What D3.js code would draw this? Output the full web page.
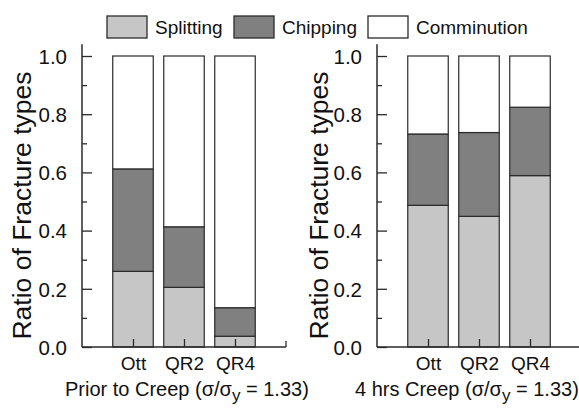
<!DOCTYPE html>
<html>
<head>
<meta charset="utf-8">
<script src="https://cdn.jsdelivr.net/npm/d3@7"></script>
<style>
  body { margin: 0; background: #fff; }
  text { font-family: Arial, "Liberation Sans", sans-serif; fill: #111; }
</style>
</head>
<body>
<div id="chart"></div>
<script>
(function(){
    // data
    const categories = ['Ott', 'QR2', 'QR4'];
    const seriesNames = ['Splitting', 'Chipping', 'Comminution'];
    const priorSplitting = [0.26, 0.205, 0.037];
    const priorChipping = [0.352, 0.208, 0.098];
    const creepSplitting = [0.487, 0.449, 0.589];
    const creepChipping = [0.245, 0.288, 0.235];
    const yTicks = [0.0, 0.2, 0.4, 0.6, 0.8, 1.0];
    const panelTitles = ['Prior to Creep', '4 hrs Creep'];

    const colors = ['#c6c6c6', '#808080', '#ffffff'];
    const stroke = '#2a2a2a';

    const fullWidth = 579, fullHeight = 411;
    const svg = d3.select('#chart')
        .append('svg')
            .attr('width', fullWidth)
            .attr('height', fullHeight);

    // legend
    const legendX = [107, 234, 368];
    const legend = svg.append('g');
    seriesNames.forEach((name, i) => {
        legend.append('rect')
            .attr('x', legendX[i]).attr('y', 16)
            .attr('width', 40).attr('height', 22)
            .style('fill', colors[i])
            .style('stroke', stroke)
            .style('stroke-width', 1.3);
        legend.append('text')
            .attr('x', legendX[i] + 48).attr('y', 34)
            .style('font-size', '19px')
            .text(name);
    });

    const panels = [
        { left: 82, splitting: priorSplitting, chipping: priorChipping, title: panelTitles[0], titleX: 65, labelX: 31 },
        { left: 377, splitting: creepSplitting, chipping: creepChipping, title: panelTitles[1], titleX: 355, labelX: 328 }
    ];

    const top = 56, bottom = 347;
    const yScale = d3.scaleLinear().domain([0, 1]).range([bottom, top]);

    panels.forEach(p => {
        const width = 204;
        const xScale = d3.scaleLinear().domain([0, 4]).range([p.left, p.left + width]);
        const barW = 40.5;

        const g = svg.append('g');

        const rows = categories.map((c, i) => {
            const s = p.splitting[i], ch = p.chipping[i];
            return [[0, s], [s, s + ch], [s + ch, 1]];
        });

        rows.forEach((segs, i) => {
            segs.forEach((seg, k) => {
                g.append('rect')
                    .attr('x', xScale(i + 1) - barW / 2)
                    .attr('y', yScale(seg[1]))
                    .attr('width', barW)
                    .attr('height', yScale(seg[0]) - yScale(seg[1]))
                    .style('fill', colors[k])
                    .style('stroke', stroke)
                    .style('stroke-width', 1.2);
            });
        });

        // y axis
        const yAxis = d3.axisLeft(yScale)
            .tickValues(yTicks)
            .tickFormat(d3.format('.1f'))
            .tickSize(-10)
            .tickPadding(15);
        const ya = g.append('g')
            .attr('transform', `translate(${p.left},0)`)
            .call(yAxis);
        ya.select('.domain').remove();
        ya.selectAll('text').style('font-size', '20.5px').attr('dy', '0.36em');
        ya.selectAll('line').style('stroke', stroke).style('stroke-width', 1.3);

        const yMinor = d3.axisLeft(yScale)
            .tickValues(d3.range(0.1, 1, 0.2))
            .tickFormat('')
            .tickSize(-5);
        const ym = g.append('g')
            .attr('transform', `translate(${p.left},0)`)
            .call(yMinor);
        ym.select('.domain').remove();
        ym.selectAll('line').style('stroke', stroke).style('stroke-width', 1.3);

        g.append('line')
            .attr('x1', p.left).attr('x2', p.left)
            .attr('y1', yScale(1.04)).attr('y2', bottom)
            .style('stroke', stroke).style('stroke-width', 1.5);

        // x axis
        const xAxis = d3.axisBottom(xScale)
            .tickValues([1, 2, 3])
            .tickFormat(d => categories[d - 1])
            .tickSize(-8)
            .tickPadding(10);
        const xa = g.append('g')
            .attr('transform', `translate(0,${bottom})`)
            .call(xAxis);
        xa.select('.domain').remove();
        xa.selectAll('text').style('font-size', '19px').attr('dy', '0.71em');
        xa.selectAll('line').style('stroke', stroke).style('stroke-width', 1.3);

        g.append('line')
            .attr('x1', p.left).attr('x2', p.left + width)
            .attr('y1', bottom).attr('y2', bottom)
            .style('stroke', stroke).style('stroke-width', 1.5);
        g.append('line')
            .attr('x1', p.left + width).attr('x2', p.left + width)
            .attr('y1', bottom).attr('y2', bottom - 6)
            .style('stroke', stroke).style('stroke-width', 1.3);

        // y label
        svg.append('text')
            .attr('transform', `translate(${p.labelX},${(top + bottom) / 2 + 4}) rotate(-90)`)
            .attr('text-anchor', 'middle')
            .style('font-size', '26.5px')
            .text('Ratio of Fracture types');

        // panel title
        const t = svg.append('text')
            .attr('x', p.titleX).attr('y', 396)
            .style('font-size', '20px');
        t.append('tspan').text(p.title + ' (\u03c3/\u03c3');
        t.append('tspan').attr('dy', 5).style('font-size', '17px').text('y');
        t.append('tspan').attr('dy', -5).text(' = 1.33)');
    });
}())
</script>
</body>
</html>
